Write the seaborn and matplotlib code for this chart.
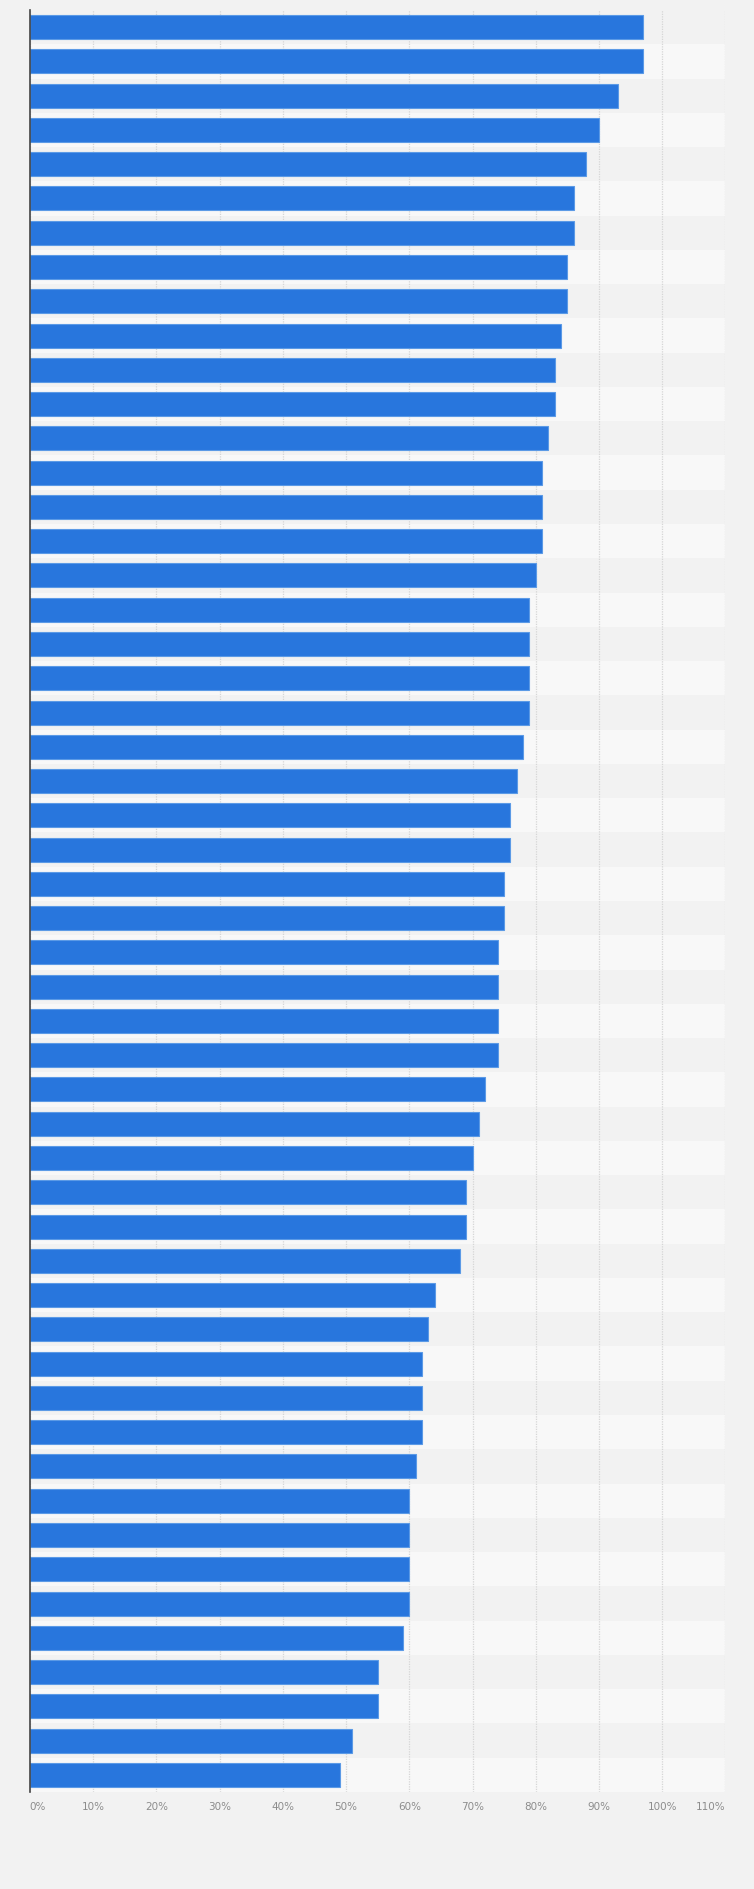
import matplotlib
matplotlib.use("Agg")
import matplotlib.pyplot as plt
import pandas as pd
import seaborn as sns

# valores (em %), de cima para baixo
valores = [97, 97, 93, 90, 88, 86, 86, 85, 85, 84,
           83, 83, 82, 81, 81, 81, 80, 79, 79, 79,
           79, 78, 77, 76, 76, 75, 75, 74, 74, 74,
           74, 72, 71, 70, 69, 69, 68, 64, 63, 62,
           62, 62, 61, 60, 60, 60, 60, 59, 55, 55,
           51, 49]
categorias = [f"item {i + 1}" for i in range(len(valores))]
ticks_x = list(range(0, 111, 10))
rotulos_x = [f"{t}%" for t in ticks_x]

df = pd.DataFrame({"categoria": categorias, "valor": valores})

sns.set_style("white")
plt.rcParams['font.family'] = ['DejaVu Sans']

fig = plt.figure(figsize=(7.54, 18.89), dpi=100, facecolor="#f2f2f2")
ax = fig.add_axes([0.0395, 0.05135, 0.9227, 0.94336])
ax.set_facecolor("#f2f2f2")

# faixas alternadas de fundo
for i in range(len(valores)):
    cor = "#f2f2f2" if i % 2 == 0 else "#f8f8f8"
    ax.axhspan(i - 0.5, i + 0.5, color=cor, zorder=0, lw=0)

sns.barplot(data=df, x="valor", y="categoria", orient="h", color="#2876dd",
            width=0.7, edgecolor="#5b9ae6", linewidth=0.8, saturation=1,
            ax=ax, zorder=3)

ax.set_xlim(0, 110)
ax.set_ylim(len(valores) - 0.5, -0.5)
ax.set_xticks(ticks_x)
ax.set_xticklabels(rotulos_x, fontsize=7.5, color="#8c8c8c")
labels = ax.get_xticklabels()
labels[0].set_ha("left")
labels[-1].set_ha("right")
ax.tick_params(axis="x", length=0, pad=7)
ax.set_yticks([])
ax.set_xlabel("")
ax.set_ylabel("")

ax.grid(axis="x", color="#d6d6d6", linestyle=(0, (1, 1)), linewidth=0.9, zorder=1)
ax.set_axisbelow(True)

for lado in ["top", "right", "bottom"]:
    ax.spines[lado].set_visible(False)
ax.spines["left"].set_color("#444444")
ax.spines["left"].set_linewidth(1.2)
ax.spines["left"].set_zorder(5)

fig.savefig("out.png", dpi=100, facecolor=fig.get_facecolor())
